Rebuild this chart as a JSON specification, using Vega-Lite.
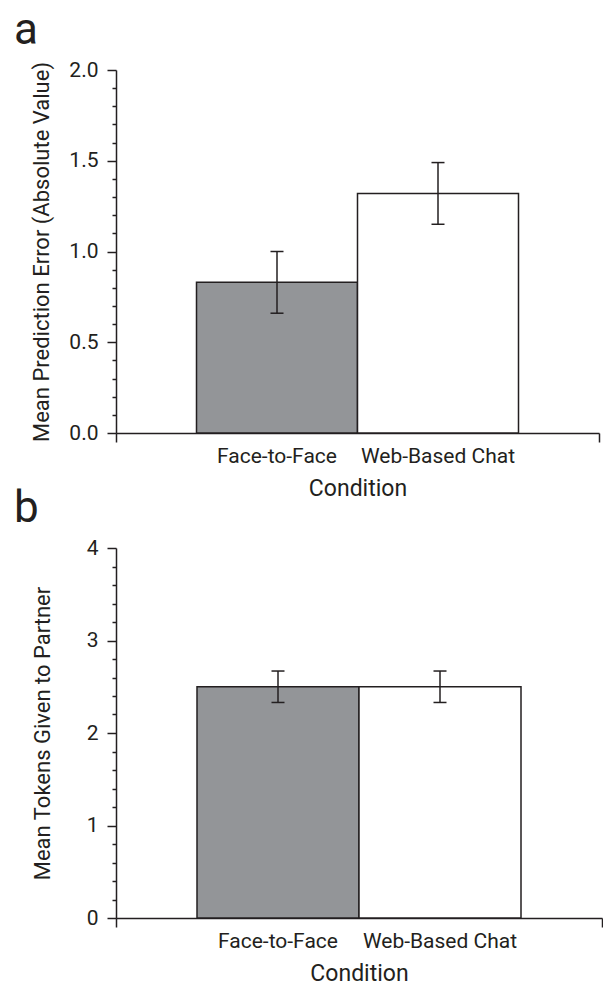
{
  "$schema": "https://vega.github.io/schema/vega-lite/v6.json",
  "background": "white",
  "padding": {"left": 14, "top": 9, "right": 1, "bottom": 0},
  "spacing": -13,
  "config": {
    "font": "Roboto",
    "view": {"stroke": null},
    "axis": {
      "grid": false,
      "domainColor": "#231f20",
      "domainWidth": 1.5,
      "tickColor": "#231f20",
      "tickWidth": 1.5,
      "labelColor": "#231f20",
      "titleColor": "#231f20",
      "titleFontWeight": "normal",
      "labelFont": "Roboto",
      "titleFont": "Roboto"
    },
    "title": {"font": "Roboto", "fontWeight": "normal", "color": "#231f20"}
  },
  "datasets": {
    "prediction": [
      {"condition": "Face-to-Face", "mean": 0.83, "lo": 0.66, "hi": 1.0},
      {"condition": "Web-Based Chat", "mean": 1.32, "lo": 1.15, "hi": 1.49}
    ],
    "tokens": [
      {"condition": "Face-to-Face", "mean": 2.5, "lo": 2.33, "hi": 2.67},
      {"condition": "Web-Based Chat", "mean": 2.5, "lo": 2.33, "hi": 2.67}
    ]
  },
  "vconcat": [
    {
      "width": 483,
      "height": 363,
      "title": {"text": "a", "anchor": "start", "frame": "group", "dx": -102, "fontSize": 44, "baseline": "alphabetic", "offset": -29},
      "data": {"name": "prediction"},
      "layer": [
        {
          "encoding": {
            "x": {"field": "condition", "type": "nominal", "title": "Condition",
              "scale": {"paddingInner": 0, "paddingOuter": 0.5},
              "axis": {"labelAngle": 0, "ticks": false, "labelPadding": 12, "titlePadding": 11, "labelFontSize": 21, "titleFontSize": 23}},
            "y": {"field": "mean", "type": "quantitative", "title": "Mean Prediction Error (Absolute Value)",
              "scale": {"domain": [0, 2], "nice": false},
              "axis": {
                "values": [0, 0.1, 0.2, 0.3, 0.4, 0.5, 0.6, 0.7, 0.8, 0.9, 1.0, 1.1, 1.2, 1.3, 1.4, 1.5, 1.6, 1.7, 1.8, 1.9, 2.0],
                "tickSize": {"condition": {"test": "round(datum.value*10) % 5 === 0", "value": 9}, "value": 4},
                "labelExpr": "round(datum.value*10) % 5 === 0 ? format(datum.value, '.1f') : ''",
                "labelFontSize": 21, "titleFontSize": 22, "labelPadding": 9, "titlePadding": 15}}
          },
          "layer": [
            {"mark": {"type": "bar", "stroke": "#231f20", "strokeWidth": 1.5},
              "encoding": {"fill": {"field": "condition", "type": "nominal", "scale": {"range": ["#939598", "#ffffff"]}, "legend": null}}},
            {"mark": {"type": "rule", "stroke": "#231f20", "strokeWidth": 1.5},
              "encoding": {"y": {"field": "lo", "type": "quantitative", "title": "Mean Prediction Error (Absolute Value)"}, "y2": {"field": "hi"}}},
            {"mark": {"type": "tick", "size": 13, "thickness": 1.5, "color": "#231f20", "opacity": 1},
              "encoding": {"y": {"field": "hi", "type": "quantitative", "title": "Mean Prediction Error (Absolute Value)"}}},
            {"mark": {"type": "tick", "size": 13, "thickness": 1.5, "color": "#231f20", "opacity": 1},
              "encoding": {"y": {"field": "lo", "type": "quantitative", "title": "Mean Prediction Error (Absolute Value)"}}}
          ]
        },
        {
          "mark": {"type": "rule", "opacity": 0},
          "encoding": {
            "x": {"datum": 0, "type": "quantitative", "scale": {"domain": [0, 1], "nice": false, "zero": false},
              "axis": {"orient": "bottom", "values": [0, 1], "labels": false, "domain": false, "title": null, "tickSize": 9}}
          }
        }
      ],
      "resolve": {"scale": {"x": "independent"}}
    },
    {
      "width": 486,
      "height": 370,
      "title": {"text": "b", "anchor": "start", "frame": "group", "dx": -102, "fontSize": 44, "baseline": "alphabetic", "offset": -29},
      "data": {"name": "tokens"},
      "layer": [
        {
          "encoding": {
            "x": {"field": "condition", "type": "nominal", "title": "Condition",
              "scale": {"paddingInner": 0, "paddingOuter": 0.5},
              "axis": {"labelAngle": 0, "ticks": false, "labelPadding": 12, "titlePadding": 11, "labelFontSize": 21, "titleFontSize": 23}},
            "y": {"field": "mean", "type": "quantitative", "title": "Mean Tokens Given to Partner",
              "scale": {"domain": [0, 4], "nice": false},
              "axis": {
                "values": [0, 0.2, 0.4, 0.6, 0.8, 1.0, 1.2, 1.4, 1.6, 1.8, 2.0, 2.2, 2.4, 2.6, 2.8, 3.0, 3.2, 3.4, 3.6, 3.8, 4.0],
                "tickSize": {"condition": {"test": "round(datum.value*5) % 5 === 0", "value": 9}, "value": 4},
                "labelExpr": "round(datum.value*5) % 5 === 0 ? format(datum.value, 'd') : ''",
                "labelFontSize": 21, "titleFontSize": 22, "labelPadding": 9, "titlePadding": 32}}
          },
          "layer": [
            {"mark": {"type": "bar", "stroke": "#231f20", "strokeWidth": 1.5},
              "encoding": {"fill": {"field": "condition", "type": "nominal", "scale": {"range": ["#939598", "#ffffff"]}, "legend": null}}},
            {"mark": {"type": "rule", "stroke": "#231f20", "strokeWidth": 1.5},
              "encoding": {"y": {"field": "lo", "type": "quantitative", "title": "Mean Tokens Given to Partner"}, "y2": {"field": "hi"}}},
            {"mark": {"type": "tick", "size": 13, "thickness": 1.5, "color": "#231f20", "opacity": 1},
              "encoding": {"y": {"field": "hi", "type": "quantitative", "title": "Mean Tokens Given to Partner"}}},
            {"mark": {"type": "tick", "size": 13, "thickness": 1.5, "color": "#231f20", "opacity": 1},
              "encoding": {"y": {"field": "lo", "type": "quantitative", "title": "Mean Tokens Given to Partner"}}}
          ]
        },
        {
          "mark": {"type": "rule", "opacity": 0},
          "encoding": {
            "x": {"datum": 0, "type": "quantitative", "scale": {"domain": [0, 1], "nice": false, "zero": false},
              "axis": {"orient": "bottom", "values": [0, 1], "labels": false, "domain": false, "title": null, "tickSize": 9}}
          }
        }
      ],
      "resolve": {"scale": {"x": "independent"}}
    }
  ]
}
